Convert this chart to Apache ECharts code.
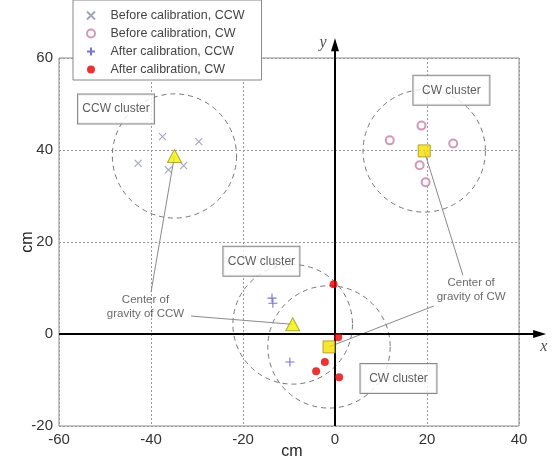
<!DOCTYPE html>
<html><head><meta charset="utf-8">
<script src="https://cdn.jsdelivr.net/npm/echarts@6/dist/echarts.min.js"></script>
<style>html,body{margin:0;padding:0;background:#fff}#c{width:553px;height:465px}</style>
</head><body><div id="c"></div>
<script>
// ---- data ----
const seriesNames = ['Before calibration, CCW', 'Before calibration, CW', 'After calibration, CCW', 'After calibration, CW'];
const beforeCCW = [[-37.5, 42.9], [-29.6, 41.8], [-42.8, 37.1], [-36.2, 35.7], [-32.9, 36.6]];
const beforeCW = [[18.8, 45.3], [11.9, 42.1], [25.7, 41.4], [18.4, 36.7], [19.7, 33.0]];
const afterCCW = [[-13.7, 7.8], [-13.5, 6.7], [-9.8, -6.1]];
const afterCW = [[-0.3, 10.8], [0.7, -0.7], [-2.2, -6.1], [-4.1, -8.1], [0.9, -9.4]];
const centersCCW = [[-34.9, 38.7], [-9.2, 2.1]];
const centersCW = [[19.4, 39.8], [-1.3, -2.8]];
// cluster circles: centre x, centre y, radius (cm)
const clusterCircles = [[-34.9, 38.7, 13.5], [19.4, 39.8, 13.3], [-9.2, 2.1, 13.0], [-1.3, -2.8, 13.3]];
// boxed labels: text, x, y
const clusterLabels = [['CCW cluster', -47.6, 48.9], ['CW cluster', 25.3, 53.0], ['CCW cluster', -16.0, 15.8], ['CW cluster', 13.8, -9.7]];
// plain annotations: text, x, y
const notes = [['Center of\ngravity of CCW', -41.2, 6.0], ['Center of\ngravity of CW', 29.6, 9.6]];
// leader lines: x1, y1, x2, y2
const leaders = [[-34.9, 38.7, -40.0, 9.1], [-31.3, 3.9, -9.2, 2.1], [19.4, 39.8, 27.8, 12.8], [21.5, 6.1, -1.3, -2.8]];
// zero axes with arrows: x1, y1, x2, y2
const zeroAxes = [[-60, 0, 45.9, 0], [0, -20, 0, 64.3]];
const axisLetters = [['y', -2.6, 63.3], ['x', 45.4, -2.8]];
const xRange = [-60, 40], yRange = [-20, 60], tickStep = 20;

const FONT = '"Liberation Sans", Arial, sans-serif';
const chart = echarts.init(document.getElementById('c'));

function circleRender(params, api) {
  const c = api.coord([api.value(0), api.value(1)]);
  const r = api.size([api.value(2), 0])[0];
  return {type: 'circle', shape: {cx: c[0], cy: c[1], r: r},
    style: {fill: 'none', stroke: '#777', lineWidth: 1, lineDash: [5, 4]}};
}
function segRender(params, api) {
  const a = api.coord([api.value(0), api.value(1)]);
  const b = api.coord([api.value(2), api.value(3)]);
  return {type: 'line', shape: {x1: a[0], y1: a[1], x2: b[0], y2: b[1]},
    style: {stroke: '#8a8a8a', lineWidth: 1}};
}
function arrowRender(params, api) {
  const a = api.coord([api.value(0), api.value(1)]);
  const b = api.coord([api.value(2), api.value(3)]);
  const dx = b[0] - a[0], dy = b[1] - a[1], L = Math.hypot(dx, dy);
  const ux = dx / L, uy = dy / L, px = -uy, py = ux;
  const len = 13, hw = 4;
  const bx = b[0] - ux * len, by = b[1] - uy * len;
  return {type: 'group', children: [
    {type: 'line', shape: {x1: a[0], y1: a[1], x2: bx + ux * 2, y2: by + uy * 2}, style: {stroke: '#000', lineWidth: 2}},
    {type: 'polygon', shape: {points: [[b[0], b[1]], [bx + px * hw, by + py * hw], [bx - px * hw, by - py * hw]]}, style: {fill: '#000'}}
  ]};
}

chart.setOption({
  backgroundColor: '#fff',
  animation: false,
  textStyle: {fontFamily: FONT},
  grid: {left: 59, top: 58, width: 460, height: 368, show: true, borderColor: '#8c8c8c', borderWidth: 1,
    backgroundColor: 'transparent', containLabel: false, outerBoundsMode: 'none'},
  legend: {
    data: seriesNames, orient: 'vertical', left: 73, top: 0,
    padding: [9, 17, 4, 13], itemGap: 5, itemWidth: 29, itemHeight: 8,
    borderColor: '#888', borderWidth: 1, backgroundColor: '#fff', z: 10,
    textStyle: {fontSize: 12.5, color: '#444', fontFamily: FONT, lineHeight: 13}
  },
  xAxis: {
    type: 'value', min: xRange[0], max: xRange[1], interval: tickStep,
    name: 'cm', nameLocation: 'middle', nameGap: 18, nameMoveOverlap: false,
    nameTextStyle: {fontSize: 16, color: '#222', fontFamily: FONT, padding: [0, 0, 0, 6]},
    axisLine: {show: false}, axisTick: {show: false},
    axisLabel: {fontSize: 15, color: '#333', margin: 6, fontFamily: FONT},
    splitLine: {show: true, lineStyle: {type: [2, 2], color: '#999', width: 1}}
  },
  yAxis: {
    type: 'value', min: yRange[0], max: yRange[1], interval: tickStep,
    name: 'cm', nameLocation: 'middle', nameGap: 23, nameRotate: 90, nameMoveOverlap: false,
    nameTextStyle: {fontSize: 16, color: '#222', fontFamily: FONT},
    axisLine: {show: false}, axisTick: {show: false},
    axisLabel: {fontSize: 15, color: '#333', margin: 6, fontFamily: FONT},
    splitLine: {show: true, lineStyle: {type: [2, 2], color: '#999', width: 1}}
  },
  series: [
    {type: 'custom', name: 'circles', renderItem: circleRender, data: clusterCircles, encode: {x: 0, y: 1}, z: 1, silent: true},
    {type: 'custom', name: 'leaders', renderItem: segRender, data: leaders, encode: {x: [0, 2], y: [1, 3]}, z: 2, silent: true},
    {type: 'custom', name: 'axes0', renderItem: arrowRender, data: zeroAxes, encode: {x: [0, 2], y: [1, 3]}, z: 3, clip: false, silent: true},
    {type: 'scatter', name: seriesNames[0], data: beforeCCW, symbol: 'path://M0,0L10,10M10,0L0,10', symbolSize: 7,
      itemStyle: {color: 'rgba(0,0,0,0)', borderColor: '#8a8fb0', borderWidth: 1.1}, z: 5},
    {type: 'scatter', name: seriesNames[1], data: beforeCW, symbol: 'emptyCircle', symbolSize: 8,
      itemStyle: {color: '#c47fa8', borderWidth: 1}, z: 5},
    {type: 'scatter', name: seriesNames[2], data: afterCCW, symbol: 'path://M5,0L5,10M0,5L10,5', symbolSize: 9,
      itemStyle: {color: 'rgba(0,0,0,0)', borderColor: '#5555c8', borderWidth: 1.1}, z: 5},
    {type: 'scatter', name: seriesNames[3], data: afterCW, symbol: 'circle', symbolSize: 8,
      itemStyle: {color: '#e60000'}, z: 6},
    {type: 'scatter', name: 'centersCCW', data: centersCCW, symbol: 'triangle', symbolSize: [14, 13],
      itemStyle: {color: '#f2f200', borderColor: '#9a9a20', borderWidth: 1}, z: 7},
    {type: 'scatter', name: 'centersCW', data: centersCW, symbol: 'rect', symbolSize: 12,
      itemStyle: {color: '#f6e000', borderColor: '#a09020', borderWidth: 1}, z: 7},
    {type: 'scatter', name: 'boxes', clip: false, symbolSize: 1, itemStyle: {color: 'rgba(0,0,0,0)'}, z: 8, silent: true,
      data: clusterLabels.map(d => ({name: d[0], value: [d[1], d[2]]})),
      label: {show: true, position: 'inside', formatter: '{b}', fontSize: 12, color: '#333', fontFamily: FONT,
        width: 68, align: 'center', verticalAlign: 'middle',
        backgroundColor: '#fff', borderColor: '#6a6a6a', borderWidth: 1, padding: [9, 4, 8, 4]}},
    {type: 'scatter', name: 'notes', clip: false, symbolSize: 1, itemStyle: {color: 'rgba(0,0,0,0)'}, z: 8, silent: true,
      data: notes.map(d => ({name: d[0], value: [d[1], d[2]]})),
      label: {show: true, position: 'inside', formatter: '{b}', fontSize: 11.5, lineHeight: 14, align: 'center', color: '#444', fontFamily: FONT}},
    {type: 'scatter', name: 'letters', clip: false, symbolSize: 1, itemStyle: {color: 'rgba(0,0,0,0)'}, z: 8, silent: true,
      data: axisLetters.map(d => ({name: d[0], value: [d[1], d[2]]})),
      label: {show: true, position: 'inside', formatter: '{b}', fontSize: 16, fontStyle: 'italic', color: '#222', fontFamily: '"Liberation Serif", "DejaVu Serif", serif'}}
  ]
});
</script>
</body></html>
